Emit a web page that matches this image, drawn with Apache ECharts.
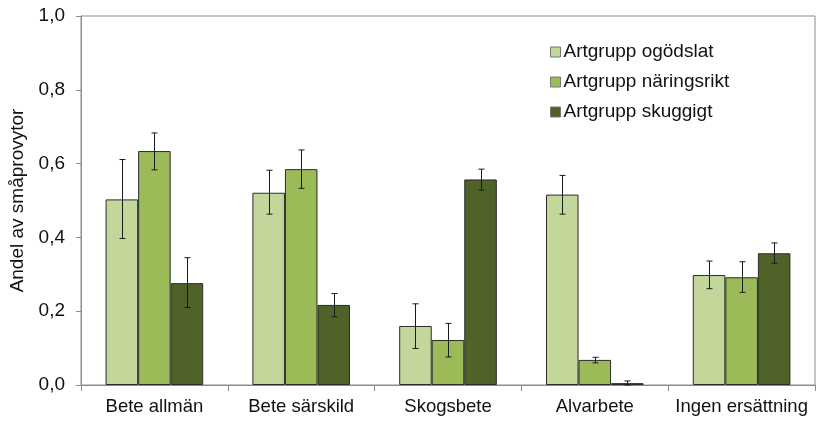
<!DOCTYPE html>
<html><head><meta charset="utf-8">
<script src="https://cdn.jsdelivr.net/npm/echarts@6/dist/echarts.min.js"></script>
<style>html,body{margin:0;padding:0;background:#fff}#c{width:836px;height:441px}</style>
</head><body><div id="c"></div>
<script>
const categories = ['Bete allmän', 'Bete särskild', 'Skogsbete', 'Alvarbete', 'Ingen ersättning'];
const seriesNames = ['Artgrupp ogödslat', 'Artgrupp näringsrikt', 'Artgrupp skuggigt'];
const ogodslat = [0.503, 0.521, 0.160, 0.516, 0.298];
const ogodslatLow = [0.397, 0.463, 0.099, 0.463, 0.261];
const ogodslatHigh = [0.611, 0.582, 0.220, 0.568, 0.336];
const naringsrikt = [0.634, 0.585, 0.122, 0.068, 0.292];
const naringsriktLow = [0.583, 0.533, 0.076, 0.060, 0.251];
const naringsriktHigh = [0.683, 0.637, 0.167, 0.075, 0.334];
const skuggigt = [0.276, 0.217, 0.557, 0.005, 0.357];
const skuggigtLow = [0.210, 0.185, 0.528, 0.000, 0.330];
const skuggigtHigh = [0.345, 0.248, 0.585, 0.011, 0.385];
const yTicks = ['0,0', '0,2', '0,4', '0,6', '0,8', '1,0'];

const colors = ['#C4D79B', '#9BBB59', '#4F6228'];
const values = [ogodslat, naringsrikt, skuggigt];
const lows = [ogodslatLow, naringsriktLow, skuggigtLow];
const highs = [ogodslatHigh, naringsriktHigh, skuggigtHigh];
const catGap = 0.335;

const chart = echarts.init(document.getElementById('c'));
const series = [];
values.forEach((v, i) => {
  series.push({
    name: seriesNames[i], type: 'bar', data: v, barGap: '0%', barCategoryGap: (catGap * 100) + '%',
    itemStyle: { color: colors[i], borderColor: '#2b2b2b', borderWidth: 1 },
    animation: false
  });
});
values.forEach((v, i) => {
  series.push({
    type: 'custom', silent: true, z: 10, animation: false,
    data: categories.map((c, k) => [k, lows[i][k], highs[i][k]]),
    renderItem: function (params, api) {
      const k = api.value(0);
      const lo = api.coord([k, api.value(1)]);
      const hi = api.coord([k, api.value(2)]);
      const band = api.size([1, 0])[0];
      const bw = band * (1 - catGap) / 3;
      const x = Math.round(lo[0] + (i - 1) * bw) + 0.5;
      const cap = 3;
      const st = { stroke: '#1a1a1a', lineWidth: 1 };
      return { type: 'group', children: [
        { type: 'line', shape: { x1: x, y1: hi[1], x2: x, y2: lo[1] }, style: st },
        { type: 'line', shape: { x1: x - cap, y1: hi[1], x2: x + cap, y2: hi[1] }, style: st },
        { type: 'line', shape: { x1: x - cap, y1: lo[1], x2: x + cap, y2: lo[1] }, style: st }
      ]};
    }
  });
});

chart.setOption({
  animation: false,
  textStyle: { fontFamily: 'Liberation Sans, Arial, sans-serif' },
  grid: { left: 81, right: 21, top: 16, bottom: 56, show: true, borderColor: '#8c8c8c', borderWidth: 1 },
  legend: {
    orient: 'vertical', left: 550, top: 42, padding: 0, itemGap: 10, itemWidth: 10, itemHeight: 10,
    data: seriesNames.map((n, i) => ({ name: n, icon: 'rect', itemStyle: { color: colors[i], borderColor: '#777', borderWidth: 1 } })),
    textStyle: { fontSize: 19, lineHeight: 20, color: '#111', padding: [0, 0, 0, -2] }
  },
  xAxis: {
    type: 'category', data: categories,
    axisLine: { lineStyle: { color: '#8c8c8c' } },
    axisTick: { show: true, length: 6, lineStyle: { color: '#8c8c8c' } },
    axisLabel: { fontSize: 18.5, color: '#111', margin: 12, interval: 0 }
  },
  yAxis: {
    type: 'value', min: 0, max: 1, interval: 0.2,
    name: 'Andel av småprovytor', nameLocation: 'middle', nameGap: 52, nameRotate: 90,
    nameTextStyle: { fontSize: 19, color: '#111' },
    axisLine: { show: true, lineStyle: { color: '#8c8c8c' } },
    axisTick: { show: true, length: 5, lineStyle: { color: '#8c8c8c' } },
    splitLine: { show: false },
    axisLabel: { fontSize: 19, color: '#111', margin: 16, formatter: (v) => yTicks[Math.round(v / 0.2)] }
  },
  series: series
});
</script>
</body></html>
